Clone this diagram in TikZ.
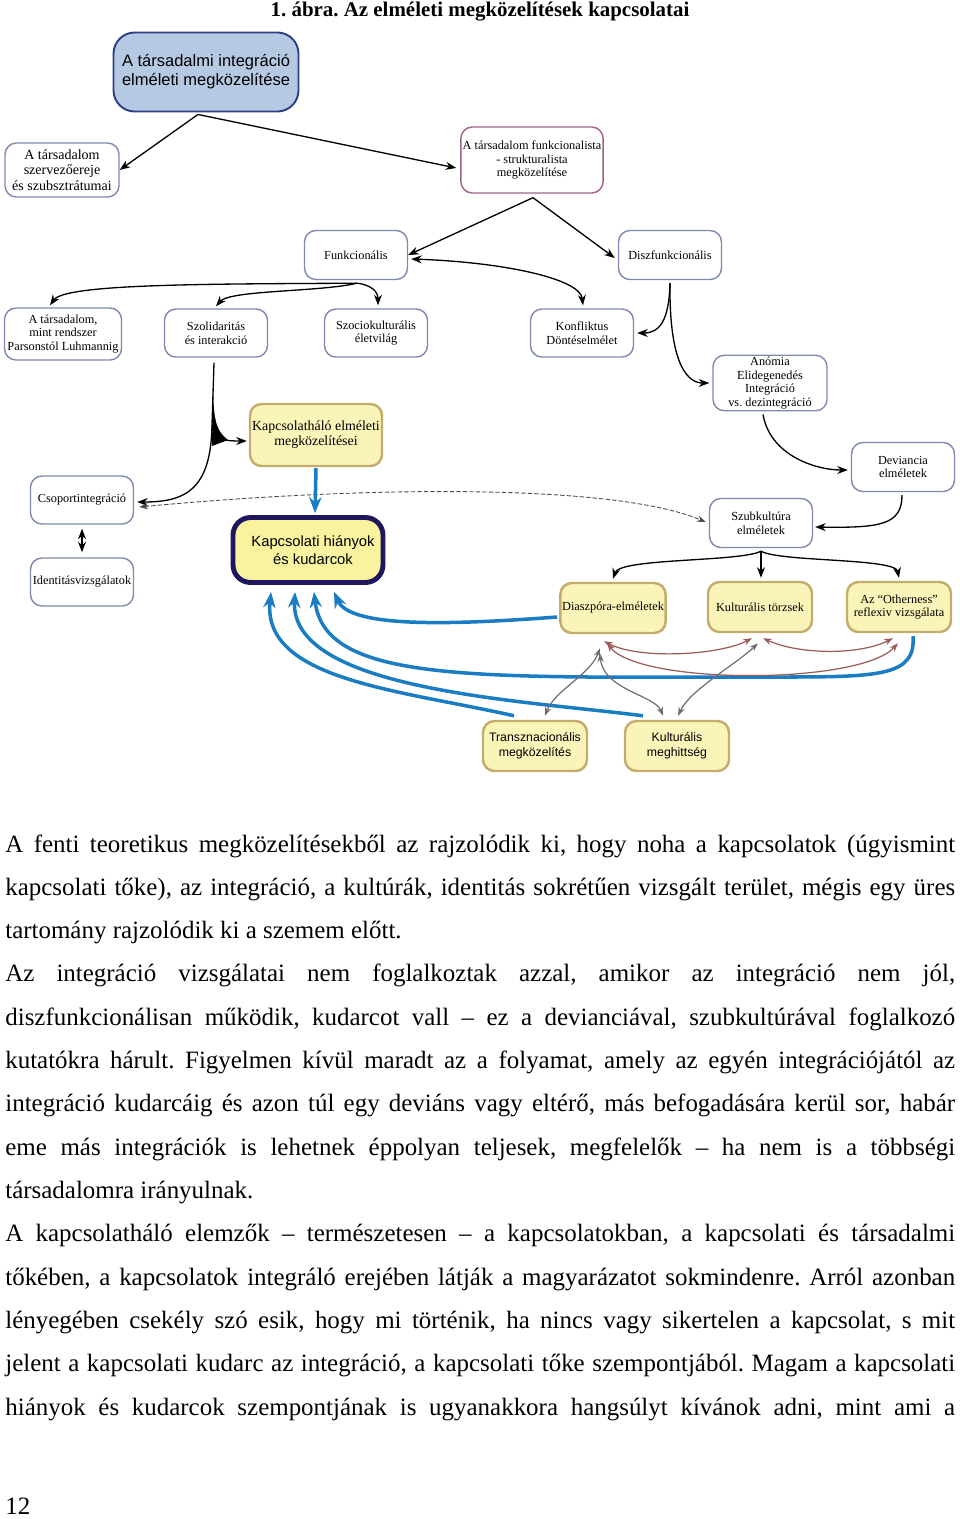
\documentclass[tikz,border=0pt]{standalone}
\usepackage{fontspec}
\setmainfont{Liberation Serif}
\newfontfamily\arialfont{Liberation Sans}
\usepackage{tikz}
\usetikzlibrary{arrows.meta,calc}
\frenchspacing

\definecolor{boxline}{HTML}{7F8AAE}
\definecolor{purpleline}{HTML}{A0648A}
\definecolor{rootblue}{HTML}{B5C9E3}
\definecolor{rootline}{HTML}{2F3F86}
\definecolor{nodeyellow}{HTML}{FBF4B9}
\definecolor{yellowline}{HTML}{C4AD6C}
\definecolor{gapyellow}{HTML}{F9F29E}
\definecolor{gapline}{HTML}{1E175E}
\definecolor{blueline}{HTML}{1A7DC4}
\definecolor{brownline}{HTML}{9B5B55}
\definecolor{greyline}{HTML}{707070}

\begin{document}
\begin{tikzpicture}[
        x=0.02cm, y=-0.02cm,
        % Styles
        plainbox/.style={rectangle, rounded corners=6.5pt, draw=boxline, line width=0.8pt, fill=white, align=center, inner sep=1pt, minimum width=2.06cm, minimum height=0.98cm, font=\fontsize{7}{7.9}\selectfont},
        yellowbox/.style={plainbox, draw=yellowline, line width=1.4pt, fill=nodeyellow, minimum width=2.08cm, minimum height=1cm},
        rootbox/.style={plainbox, rounded corners=12pt, draw=rootline, line width=1.1pt, fill=rootblue, minimum width=3.7cm, minimum height=1.58cm, font=\arialfont\fontsize{9.4}{10.8}\selectfont},
        gapbox/.style={yellowbox, rounded corners=10pt, draw=gapline, line width=2.8pt, fill=gapyellow, minimum width=3cm, minimum height=1.3cm, font=\arialfont\fontsize{8.4}{10.2}\selectfont},
        sansbox/.style={yellowbox, font=\arialfont\fontsize{7}{8.5}\selectfont},
        link/.style={line width=0.75pt, ->, >={Stealth[length=6pt,width=4.5pt]}},
        bluelink/.style={line width=2pt, draw=blueline, ->, >={Stealth[length=9pt,width=7pt]}},
        brownlink/.style={line width=0.7pt, draw=brownline, <->, >={Stealth[length=5pt,width=3.6pt]}},
        greylink/.style={line width=0.7pt, draw=greyline, <->, >={Stealth[length=5pt,width=3.6pt]}},
        dashlink/.style={line width=0.5pt, draw=black!70, dash pattern=on 2.5pt off 1.2pt, <->, >={Stealth[length=5pt,width=3.6pt]}},
        bodytext/.style={anchor=base west, inner sep=0pt, text width=19cm, align=justify, font=\fontsize{14.2}{24.66}\selectfont}
    ]
    \useasboundingbox (0,0) rectangle (960,1519);

    % ================= TITLE =================
    \node[anchor=base, inner sep=0pt, font=\bfseries\fontsize{11.9}{14}\selectfont] (title) at (480,16) {1. ábra. Az elméleti megközelítések kapcsolatai};

    % ================= UPPER NODES =================
    \node[rootbox] (top) at (206,72) {A társadalmi integráció\\elméleti megközelítése};
    \node[plainbox, minimum width=2.28cm, minimum height=1.08cm, font=\fontsize{8}{9}\selectfont] (szerv) at (62,170) {A társadalom\\szervezőereje\\és szubsztrátumai};
    \node[plainbox, draw=purpleline, minimum width=2.82cm, minimum height=1.32cm] (funkstr) at (532,160) {A társadalom funkcionalista\\- strukturalista\\megközelítése};
    \node[plainbox] (funk) at (356,255) {Funkcionális};
    \node[plainbox] (diszf) at (670,255) {Diszfunkcionális};

    % ================= MIDDLE ROW =================
    \node[plainbox, minimum width=2.34cm, minimum height=1.04cm, font=\fontsize{7}{7.5}\selectfont] (rend) at (63,334) {A társadalom,\\mint rendszer\\Parsonstól Luhmannig};
    \node[plainbox, minimum height=0.96cm] (szol) at (216,333) {Szolidaritás\\és interakció};
    \node[plainbox, minimum height=0.96cm] (szoc) at (376,333) {Szociokulturális\\életvilág};
    \node[plainbox, minimum height=0.96cm] (konf) at (582,333) {Konfliktus\\Döntéselmélet};
    \node[plainbox, minimum width=2.28cm, minimum height=1.08cm, font=\fontsize{7}{7.75}\selectfont] (anom) at (770,383) {Anómia\\Elidegenedés\\Integráció\\vs. dezintegráció};
    \node[plainbox] (devi) at (903,467) {Deviancia\\elméletek};

    % ================= NETWORK BRANCH =================
    \node[yellowbox, minimum width=2.64cm, minimum height=1.24cm, font=\fontsize{7.9}{8.6}\selectfont] (kapcsh) at (316,435) {Kapcsolatháló elméleti\\megközelítései};
    \node[plainbox, minimum height=0.96cm] (csop) at (82,500) {Csoportintegráció};
    \node[plainbox, minimum height=0.96cm] (ident) at (82,582) {Identitásvizsgálatok};
    \node[gapbox] (gap) at (308,550) {\hspace*{0.2cm}Kapcsolati hiányok\\\hspace*{0.2cm}és kudarcok};

    % ================= SUBCULTURE BRANCH =================
    \node[plainbox] (szub) at (761,523) {Szubkultúra\\elméletek};
    \node[yellowbox] (diasp) at (613,608) {Diaszpóra-elméletek};
    \node[yellowbox] (kult) at (760,607) {Kulturális törzsek};
    \node[yellowbox] (oth) at (899,607) {Az “Otherness”\\reflexiv vizsgálata};
    \node[sansbox] (trans) at (535,746) {Transznacionális\\megközelítés};
    \node[sansbox] (meght) at (677,746) {Kulturális\\meghittség};

    % ================= BLACK CONNECTORS =================
    \draw[link] ($(top.south)+(-8,2)$) -- (szerv.east);
    \draw[link] ($(top.south)+(-8,2)$) -- ($(funkstr.west)+(-4,8)$);
    \draw[link] ($(funkstr.south)+(1,4)$) -- (funk.east);
    \draw[link] ($(funkstr.south)+(1,4)$) -- ($(diszf.west)+(-3,3)$);
    \draw[link, <->] ($(funk.east)+(3,4)$) .. controls (500,262) and (580,278) .. ($(konf.north)+(1,-3)$);
    \draw[link] ($(funk.south)+(1,3)$) .. controls (200,284) and (65,284) .. ($(rend.north)+(-13,-2)$);
    \draw[link] ($(funk.south)+(1,3)$) .. controls (320,292) and (230,290) .. ($(szol.north)+(0,-2)$);
    \draw[link] ($(funk.south)+(1,3)$) .. controls (372,285) and (378,292) .. ($(szoc.north)+(2,-3)$);
    \draw[link] ($(diszf.south)+(0,3)$) .. controls (669,320) and (660,333) .. ($(konf.east)+(3,0)$);
    \draw[link] ($(diszf.south)+(0,3)$) .. controls (669,370) and (690,383) .. ($(anom.west)+(-3,0)$);
    \draw[link] ($(anom.south)+(-7,3)$) .. controls (770,455) and (815,470) .. ($(devi.west)+(-3,3)$);
    \draw[link] ($(devi.south)+(-1,3)$) .. controls (902,525) and (880,528) .. ($(szub.east)+(2,4)$);

    % fork below Szolidaritas, with its filled wedge
    \coordinate (fork) at (212,425);
    \fill ($(szol.south)+(-3,35)$) .. controls (214,425) and (218,432) .. (228,440) -- (212,446) -- cycle;
    \draw[link] ($(szol.south)+(-2,5)$) -- (fork) .. controls (211,490) and (185,502) .. ($(csop.east)+(3,2)$);
    \draw[link] (fork) .. controls (213,440) and (225,441) .. ($(kapcsh.west)+(-2,6)$);
    \draw[dashlink] ($(csop.east)+(5,7)$) .. controls (350,487) and (610,482) .. ($(szub.west)+(-3,-1)$);
    \draw[link, <->] ($(csop.south)+(0,4)$) -- ($(ident.north)+(0,-5)$);

    \draw[link] ($(szub.south)+(0,3)$) .. controls (740,562) and (620,558) .. ($(diasp.north)+(0,-3)$);
    \draw[link] ($(szub.south)+(0,3)$) -- ($(kult.north)+(1,-3)$);
    \draw[link] ($(szub.south)+(0,3)$) .. controls (780,562) and (895,558) .. ($(oth.north)+(0,-3)$);

    % ================= BLUE CONNECTORS =================
    \draw[bluelink] ($(kapcsh.south)+(0,1)$) -- ($(gap.north)+(7,-2)$);
    \draw[bluelink] ($(trans.north)+(-21,-4)$) .. controls (400,690) and (262,680) .. ($(gap.south)+(-37,7)$);
    \draw[bluelink] ($(meght.north)+(-34,-4)$) .. controls (520,700) and (290,690) .. ($(gap.south)+(-13,7)$);
    \draw[bluelink] ($(oth.south)+(14,3)$) .. controls (916,676) and (880,677) .. (780,677) .. controls (480,677) and (325,685) .. ($(gap.south)+(6,7)$);
    \draw[bluelink] ($(diasp.west)+(-2,9)$) .. controls (450,625) and (350,628) .. ($(gap.south)+(26,7)$);

    % ================= BROWN AND GREY CONNECTORS =================
    \draw[brownlink] ($(diasp.south)+(-9,7)$) .. controls (640,660) and (720,655) .. ($(kult.south)+(-8,5)$);
    \draw[brownlink] ($(kult.south)+(3,5)$) .. controls (800,655) and (860,655) .. ($(oth.south)+(-6,5)$);
    \draw[brownlink] ($(diasp.south)+(-6,9)$) .. controls (640,685) and (860,685) .. ($(oth.south)+(-1,10)$);
    \draw[greylink] ($(diasp.south)+(-13,14)$) .. controls (590,675) and (555,690) .. ($(trans.north)+(10,-4)$);
    \draw[greylink] ($(diasp.south)+(-13,19)$) .. controls (603,690) and (655,695) .. ($(meght.north)+(-14,-4)$);
    \draw[greylink] ($(kult.south)+(-2,10)$) .. controls (735,665) and (690,690) .. ($(meght.north)+(1,-4)$);

    % ================= BODY TEXT =================
    \node[bodytext] (body) at (5,852) {\tolerance=10000 \hyphenpenalty=10000 \parskip=0pt
A fenti teoretikus megközelítésekből az rajzolódik ki, hogy noha a kapcsolatok (úgyismint\linebreak
kapcsolati tőke), az integráció, a kultúrák, identitás sokrétűen vizsgált terület, mégis egy üres\linebreak
tartomány rajzolódik ki a szemem előtt.\par
Az integráció vizsgálatai nem foglalkoztak azzal, amikor az integráció nem jól,\linebreak
diszfunkcionálisan működik, kudarcot vall – ez a devianciával, szubkultúrával foglalkozó\linebreak
kutatókra hárult. Figyelmen kívül maradt az a folyamat, amely az egyén integrációjától az\linebreak
integráció kudarcáig és azon túl egy deviáns vagy eltérő, más befogadására kerül sor, habár\linebreak
eme más integrációk is lehetnek éppolyan teljesek, megfelelők – ha nem is a többségi\linebreak
társadalomra irányulnak.\par
A kapcsolatháló elemzők – természetesen – a kapcsolatokban, a kapcsolati és társadalmi\linebreak
tőkében, a kapcsolatok integráló erejében látják a magyarázatot sokmindenre. Arról azonban\linebreak
lényegében csekély szó esik, hogy mi történik, ha nincs vagy sikertelen a kapcsolat, s mit\linebreak
jelent a kapcsolati kudarc az integráció, a kapcsolati tőke szempontjából. Magam a kapcsolati\linebreak
hiányok és kudarcok szempontjának is ugyanakkora hangsúlyt kívánok adni, mint ami a\parfillskip=0pt\par};

    \node[anchor=base west, inner sep=0pt, font=\fontsize{14.2}{16}\selectfont] (pagenum) at (5,1514) {12};

    \end{tikzpicture}
\end{document}
